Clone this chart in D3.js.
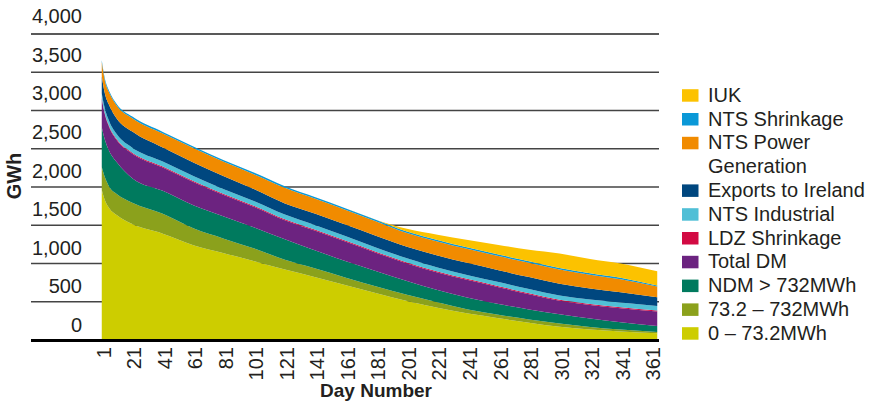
<!DOCTYPE html>
<html>
<head>
<meta charset="utf-8">
<script src="https://cdn.jsdelivr.net/npm/d3@7"></script>
<style>
  body { margin: 0; background: #fff; }
  text { font-family: "Liberation Sans", Arial, sans-serif; fill: #231f20; }
</style>
</head>
<body>
<div id="chart"></div>
<script>
// sampled day numbers (load duration curve, days ranked by demand)
const days = [1, 3, 6, 11, 21, 41, 61, 81, 101, 121, 141, 161, 181, 201, 221, 241, 261, 281, 301, 321, 341, 365];

// GWh per category, bottom of the stack first
const band0to73 = [1960, 1830, 1720, 1630, 1515, 1390, 1240, 1135, 1030, 920, 820, 715, 610, 510, 420, 345, 285, 225, 172, 138, 112, 88];
const band73to732 = [300, 300, 280, 275, 280, 260, 220, 190, 165, 130, 115, 100, 90, 80, 72, 55, 45, 44, 44, 32, 24, 18];
const ndmOver732 = [520, 490, 465, 415, 320, 300, 300, 290, 275, 266, 235, 215, 198, 180, 160, 153, 140, 130, 122, 110, 95, 78];
const totalDM = [370, 330, 310, 287, 320, 305, 305, 280, 270, 250, 257, 254, 240, 230, 230, 230, 220, 200, 175, 177, 185, 187];
const ldzShrinkage = [13, 13, 13, 13, 13, 13, 13, 13, 13, 13, 13, 13, 13, 13, 13, 13, 13, 13, 13, 13, 13, 13];
const ntsIndustrial = [60, 65, 65, 65, 65, 65, 65, 63, 62, 61, 60, 58, 56, 55, 54, 52, 54, 55, 56, 58, 60, 61];
const exportsIreland = [220, 197, 210, 205, 211, 182, 177, 169, 155, 145, 150, 150, 153, 150, 155, 157, 155, 155, 153, 145, 135, 114];
const ntsPowerGen = [190, 170, 165, 170, 176, 185, 190, 190, 195, 205, 195, 195, 190, 180, 183, 183, 185, 187, 187, 180, 170, 139];
const ntsShrinkage = [25, 25, 22, 20, 20, 20, 20, 20, 20, 20, 20, 20, 20, 20, 20, 20, 20, 20, 20, 20, 20, 15];
const iuk = [0, 0, 0, 0, 0, 0, 0, 0, 0, 0, 0, 0, 0, 35, 70, 100, 125, 150, 188, 187, 187, 185];

const yTicks = [0, 500, 1000, 1500, 2000, 2500, 3000, 3500, 4000];
const xTicks = [1, 21, 41, 61, 81, 101, 121, 141, 161, 181, 201, 221, 241, 261, 281, 301, 321, 341, 361];

const series = [
  { key: 'low', name: '0 – 73.2MWh', values: band0to73, color: '#cdcd00' },
  { key: 'mid', name: '73.2 – 732MWh', values: band73to732, color: '#8ba11c' },
  { key: 'ndm', name: 'NDM > 732MWh', values: ndmOver732, color: '#007a5e' },
  { key: 'dm', name: 'Total DM', values: totalDM, color: '#6c2380' },
  { key: 'ldz', name: 'LDZ Shrinkage', values: ldzShrinkage, color: '#d20a43' },
  { key: 'ind', name: 'NTS Industrial', values: ntsIndustrial, color: '#50bfd6' },
  { key: 'exp', name: 'Exports to Ireland', values: exportsIreland, color: '#00477f' },
  { key: 'pow', name: ['NTS Power', 'Generation'], values: ntsPowerGen, color: '#f18b00' },
  { key: 'shr', name: 'NTS Shrinkage', values: ntsShrinkage, color: '#0a98d7' },
  { key: 'iuk', name: 'IUK', values: iuk, color: '#fcc200' }
];

const width = 875,
  height = 404;

const rows = days.map((day, i) => {
  const row = { day: day };
  series.forEach(s => { row[s.key] = s.values[i]; });
  return row;
});

const stack = d3.stack().keys(series.map(s => s.key));
const layers = stack(rows);

const x = d3.scaleLinear().domain([0.5, 365.5]).range([101, 658]);
const y = d3.scaleLinear().domain([0, 4000]).range([340, 34]);

const svg = d3.select('#chart').append('svg')
  .attr('width', width)
  .attr('height', height);

// gridlines sit behind the areas
svg.append('g').selectAll('line')
  .data(yTicks.filter(d => d > 0))
  .enter().append('line')
  .attr('x1', 31)
  .attr('x2', 659)
  .attr('y1', d => y(d))
  .attr('y2', d => y(d))
  .attr('stroke', d => d === 4000 ? '#222' : '#444')
  .attr('stroke-width', 1.3);

// y tick labels sit above their line
svg.append('g').selectAll('text')
  .data(yTicks)
  .enter().append('text')
  .attr('x', 82)
  .attr('y', d => y(d) - 8 - d / 4000 * 3)
  .attr('text-anchor', 'end')
  .style('font-size', '20px')
  .text(d => d3.format(',')(d));

const area = d3.area()
  .curve(d3.curveMonotoneX)
  .x(d => x(d.data.day))
  .y0(d => y(d[0]))
  .y1(d => y(d[1]));

const colorOf = {};
series.forEach(s => { colorOf[s.key] = s.color; });

svg.append('g').selectAll('path')
  .data(layers)
  .enter().append('path')
  .attr('fill', d => colorOf[d.key])
  .attr('d', area);

// baseline
svg.append('line')
  .attr('x1', 31)
  .attr('x2', 659)
  .attr('y1', y(0) + 0.5)
  .attr('y2', y(0) + 0.5)
  .attr('stroke', '#000')
  .attr('stroke-width', 3);

// x tick labels, rotated
svg.append('g').selectAll('text')
  .data(xTicks)
  .enter().append('text')
  .attr('transform', d => `translate(${x(d) + 2},${347}) rotate(-90)`)
  .attr('dy', '0.35em')
  .attr('text-anchor', 'end')
  .style('font-size', '20px')
  .text(d => d);

// axis titles
svg.append('text')
  .attr('transform', 'translate(21,176) rotate(-90)')
  .attr('text-anchor', 'middle')
  .style('font-size', '20px')
  .style('font-weight', 'bold')
  .text('GWh');

svg.append('text')
  .attr('x', 376)
  .attr('y', 397)
  .attr('text-anchor', 'middle')
  .style('font-size', '19px')
  .style('font-weight', 'bold')
  .text('Day Number');

// legend, top of stack first
const legend = svg.append('g');
let line = 0;
series.slice().reverse().forEach(s => {
  const base = 101.7 + line * 23.8;
  legend.append('rect')
    .attr('x', 682)
    .attr('y', base - 12.5)
    .attr('width', 16.5)
    .attr('height', 12.5)
    .attr('fill', s.color);
  const names = Array.isArray(s.name) ? s.name : [s.name];
  names.forEach((n, j) => {
    legend.append('text')
      .attr('x', 708)
      .attr('y', base + j * 23.8)
      .style('font-size', '20px')
      .text(n);
  });
  line += names.length;
});
</script>
</body>
</html>
